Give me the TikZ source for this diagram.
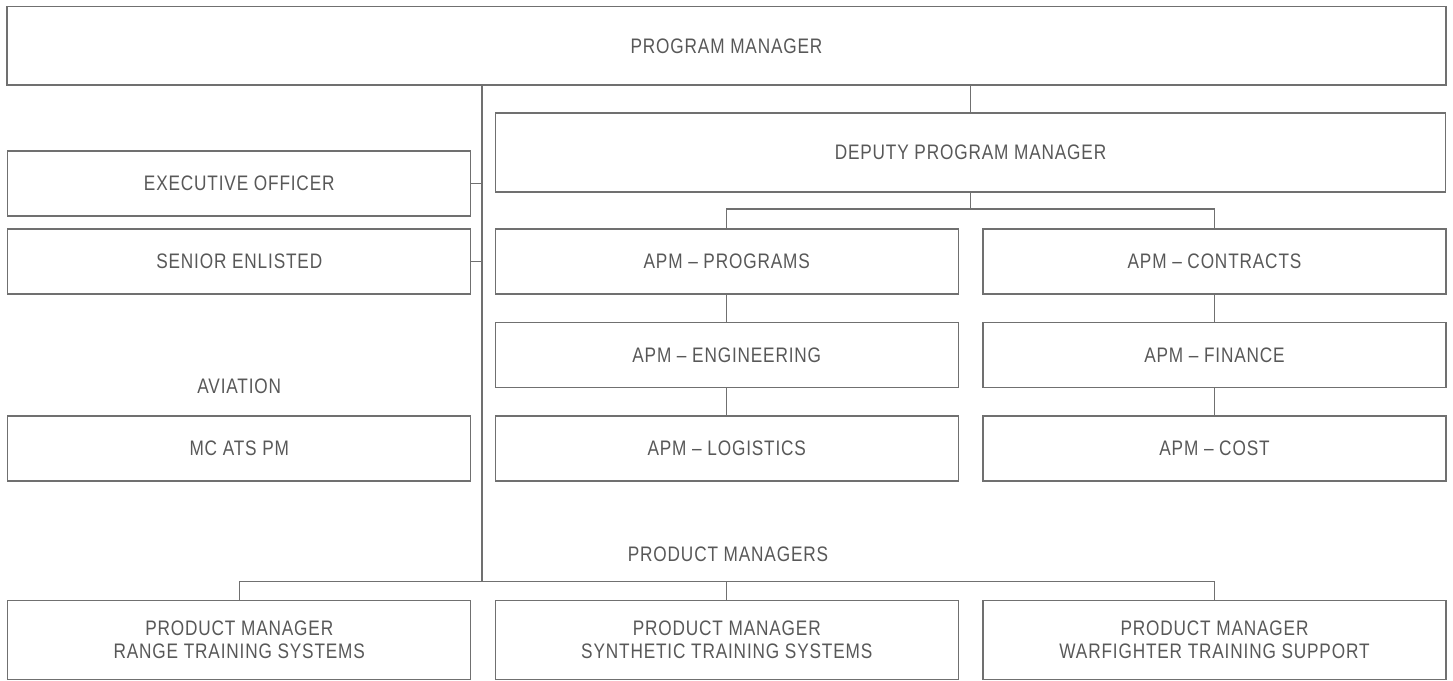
\documentclass[tikz,border=0pt]{standalone}
\usepackage{fontspec}
\setmainfont[FakeStretch=0.82,LetterSpace=4]{Liberation Sans}
\definecolor{linec}{RGB}{112,112,112}
\definecolor{textc}{RGB}{88,88,88}
\newcommand{\lblfont}{\fontsize{21pt}{23.5pt}\selectfont}
\begin{document}
\begin{tikzpicture}[x=1pt,y=-1pt,
  every node/.style={font=\lblfont, text=textc},
  box/.style={draw=linec, line width=1.3pt, inner sep=0pt, outer sep=0pt,
    minimum width=463pt, minimum height=65pt, align=center},
  conn/.style={draw=linec, line width=1.3pt}]
\useasboundingbox (0,0) rectangle (1453,680);
% boxes
\node[box, minimum width=1439pt, minimum height=78.5pt] (pm) at (726.5,45.8) {PROGRAM MANAGER};
\node[box, minimum width=950pt, minimum height=79pt] (dpm) at (970.5,152.5) {DEPUTY PROGRAM MANAGER};
\node[box] (exec) at (239.25,183.5) {EXECUTIVE OFFICER};
\node[box] (senior) at (239.25,261.6) {SENIOR ENLISTED};
\node (aviation) at (239.25,386.7) {AVIATION};
\node[box] (mcats) at (239.25,448.5) {MC ATS PM};
\node[box] (programs) at (726.75,261.6) {APM -- PROGRAMS};
\node[box] (contracts) at (1214.5,261.6) {APM -- CONTRACTS};
\node[box] (engineering) at (726.75,355) {APM -- ENGINEERING};
\node[box] (finance) at (1214.5,355) {APM -- FINANCE};
\node[box] (logistics) at (726.75,448.5) {APM -- LOGISTICS};
\node[box] (cost) at (1214.5,448.5) {APM -- COST};
\node (pmgrs) at (728,554) {PRODUCT MANAGERS};
\node[box, minimum height=78.5pt] (prod1) at (239.25,640) {PRODUCT MANAGER\\RANGE TRAINING SYSTEMS};
\node[box, minimum height=78.5pt] (prod2) at (726.75,640) {PRODUCT MANAGER\\SYNTHETIC TRAINING SYSTEMS};
\node[box, minimum height=78.5pt] (prod3) at (1214.5,640) {PRODUCT MANAGER\\WARFIGHTER TRAINING SUPPORT};
% connectors
\coordinate (sp) at (482,581.5);
\coordinate (dbr) at ([yshift=-17pt]dpm.south);
\coordinate (pbr) at ([yshift=19pt]prod2.north);
\draw[conn] (sp |- pm.south) -- (sp);
\draw[conn] (exec.east) -- (exec.east -| sp);
\draw[conn] (senior.east) -- (senior.east -| sp);
\draw[conn] (dpm.north) -- (dpm.north |- pm.south);
\draw[conn] (dpm.south) -- (dbr);
\draw[conn] (programs.north) |- (dbr) -| (contracts.north);
\draw[conn] (programs) -- (engineering);
\draw[conn] (engineering) -- (logistics);
\draw[conn] (contracts) -- (finance);
\draw[conn] (finance) -- (cost);
\draw[conn] (prod1.north) |- (pbr) -| (prod3.north);
\draw[conn] (prod2.north) -- (pbr);
\end{tikzpicture}
\end{document}
